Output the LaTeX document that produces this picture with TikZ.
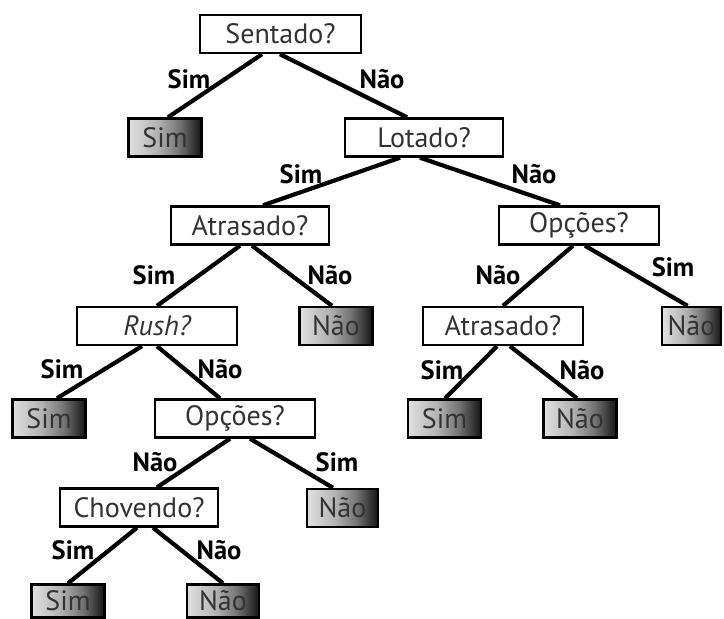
\documentclass[tikz,border=0pt]{standalone}
\usepackage{fontspec}
\setmainfont{PT Sans}
\pgfdeclarehorizontalshading{leafshade}{100bp}{color(0bp)=(black!12); color(25bp)=(black!12); color(45bp)=(black!30); color(60bp)=(black!55); color(75bp)=(black!92); color(100bp)=(black!92)}
\begin{document}
\begin{tikzpicture}[x=1pt,y=-1pt,
  qbox/.style={draw=black, line width=2.4pt, fill=white, inner sep=0pt,
    minimum width=158pt, minimum height=38pt, text=black!80,
    font=\fontsize{28}{30}\selectfont},
  leaf/.style={draw=black, line width=2.4pt, inner sep=0pt,
    minimum width=73pt, minimum height=38pt, text=black!80,
    shading=leafshade,
    font=\fontsize{28}{30}\selectfont},
  lbl/.style={inner sep=0pt, font=\fontsize{26.5}{28}\selectfont\bfseries, text=black},
  conn/.style={line width=4.2pt, black}]
\clip (0,0) rectangle (724,619);
\fill[white] (0,0) rectangle (724,619);
% question nodes
\node[qbox, minimum width=161pt] (sentado) at (280.5,34) {Sentado?};
\node[qbox] (lotado) at (424,137.5) {Lotado?};
\node[qbox] (atrL) at (250,225.5) {Atrasado?};
\node[qbox, minimum width=160pt] (opcR) at (579,225.5) {Opções?};
\node[qbox, minimum width=160pt] (rush) at (157,326) {\itshape Rush?};
\node[qbox, minimum width=160pt] (atrR) at (503,326) {Atrasado?};
\node[qbox, minimum width=160pt] (opcL) at (235,418.5) {Opções?};
\node[qbox] (chov) at (139,507.5) {Chovendo?};
% leaves
\node[leaf] (simA) at (165,137.5) {Sim};
\node[leaf] (naoA) at (336,326) {Não};
\node[leaf, minimum width=59pt] (naoB) at (691.5,326) {Não};
\node[leaf] (simB) at (49,418.5) {Sim};
\node[leaf] (simC) at (444.5,418.5) {Sim};
\node[leaf] (naoC) at (580,418.5) {Não};
\node[leaf, minimum width=71pt] (naoD) at (342.5,508) {Não};
\node[leaf, minimum height=33pt] (simD) at (68,601) {Sim};
\node[leaf, minimum width=72pt, minimum height=33pt] (naoE) at (223,601) {Não};
% connectors
\draw[conn] ([xshift=-18.5pt]sentado.south) -- ([xshift=3pt]simA.north);
\draw[conn] ([xshift=-0.5pt]sentado.south) -- ([xshift=-17pt]lotado.north);
\draw[conn] ([xshift=-24pt]lotado.south) -- ([xshift=13pt]atrL.north);
\draw[conn] ([xshift=-4pt]lotado.south) -- ([xshift=-19pt]opcR.north);
\draw[conn] ([xshift=-10pt]atrL.south) -- ([xshift=0pt]rush.north);
\draw[conn] ([xshift=2pt]atrL.south) -- ([xshift=-4pt]naoA.north);
\draw[conn] ([xshift=-6pt]opcR.south) -- ([xshift=0pt]atrR.north);
\draw[conn] ([xshift=6pt]opcR.south) -- ([xshift=-4pt]naoB.north);
\draw[conn] ([xshift=-15pt]rush.south) -- ([xshift=8pt]simB.north);
\draw[conn] ([xshift=0pt]rush.south) -- ([xshift=-15pt]opcL.north);
\draw[conn] ([xshift=-6pt]atrR.south) -- ([xshift=0.5pt]simC.north);
\draw[conn] ([xshift=7pt]atrR.south) -- ([xshift=-3pt]naoC.north);
\draw[conn] ([xshift=-5pt]opcL.south) -- ([xshift=18pt]chov.north);
\draw[conn] ([xshift=15pt]opcL.south) -- ([xshift=-9.5pt]naoD.north);
\draw[conn] ([xshift=-2pt]chov.south) -- ([xshift=0pt]simD.north);
\draw[conn] ([xshift=14pt]chov.south) -- ([xshift=0pt]naoE.north);
% labels
\node[lbl] (l1) at (189,79) {Sim};
\node[lbl] (l2) at (382,79) {Não};
\node[lbl] (l3) at (301,174) {Sim};
\node[lbl] (l4) at (534,174) {Não};
\node[lbl] (l5) at (154,275) {Sim};
\node[lbl] (l6) at (330,275) {Não};
\node[lbl] (l7) at (498,275) {Não};
\node[lbl] (l8) at (673,267) {Sim};
\node[lbl] (l9) at (62,369) {Sim};
\node[lbl] (l10) at (220,369) {Não};
\node[lbl] (l11) at (442,370) {Sim};
\node[lbl] (l12) at (582,370) {Não};
\node[lbl] (l13) at (155,462) {Não};
\node[lbl] (l14) at (337,462) {Sim};
\node[lbl] (l15) at (73,550) {Sim};
\node[lbl] (l16) at (219,550) {Não};
\end{tikzpicture}
\end{document}
